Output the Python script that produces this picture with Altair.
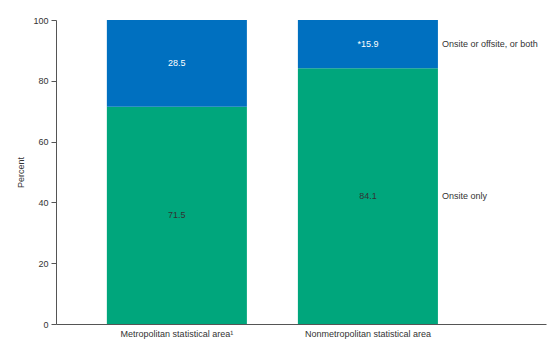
import altair as alt
import pandas as pd

areas = ["Metropolitan statistical area\u00b9", "Nonmetropolitan statistical area"]
onsite_only = [71.5, 84.1]
onsite_or_offsite = [28.5, 15.9]
value_labels_only = ["71.5", "84.1"]
value_labels_both = ["28.5", "*15.9"]
series = ["Onsite only", "Onsite or offsite, or both"]
colors = ["#00a67c", "#0070c0"]

rows = []
for i, a in enumerate(areas):
    rows.append({"area": a, "series": series[0], "value": onsite_only[i], "order": 0,
                 "label": value_labels_only[i], "start": 0, "mid": onsite_only[i] / 2})
    rows.append({"area": a, "series": series[1], "value": onsite_or_offsite[i], "order": 1,
                 "label": value_labels_both[i], "start": onsite_only[i],
                 "mid": onsite_only[i] + onsite_or_offsite[i] / 2})
df = pd.DataFrame(rows)

font = "Liberation Sans"

xscale = alt.Scale(domain=areas, paddingInner=0.267, paddingOuter=0.416, align=0.32)

base = alt.Chart(df)

bars = base.mark_bar(stroke=None).encode(
    x=alt.X("area:N", scale=xscale, sort=areas,
            axis=alt.Axis(title=None, labelAngle=0, ticks=False, labelPadding=5,
                          labelFont=font, labelFontSize=9, labelColor="#333",
                          domainColor="#555", domainWidth=1)),
    y=alt.Y("start:Q", scale=alt.Scale(domain=[0, 100], nice=False),
            axis=alt.Axis(title="Percent", values=[0, 20, 40, 60, 80, 100], grid=False,
                          tickSize=5, tickColor="#555", domainColor="#555",
                          labelFont=font, labelFontSize=9, labelColor="#333",
                          titleFont=font, titleFontSize=9, titleFontWeight="normal",
                          titleColor="#333", titlePadding=7, labelPadding=3)),
    y2=alt.Y2("end:Q"),
    color=alt.Color("series:N", scale=alt.Scale(domain=series, range=colors), legend=None),
).transform_calculate(end="datum.start + datum.value")

text_green = base.transform_filter(alt.datum.order == 0).mark_text(
    font=font, fontSize=9, color="#333").encode(
    x=alt.X("area:N", scale=xscale, sort=areas),
    y=alt.Y("mid:Q"),
    text="label:N")

text_blue = base.transform_filter(alt.datum.order == 1).mark_text(
    font=font, fontSize=9, color="white").encode(
    x=alt.X("area:N", scale=xscale, sort=areas),
    y=alt.Y("mid:Q"),
    text="label:N")

side = base.transform_filter(alt.datum.area == areas[1]).mark_text(
    font=font, fontSize=9, color="#333", align="left", dx=74).encode(
    x=alt.X("area:N", scale=xscale, sort=areas),
    y=alt.Y("mid:Q"),
    text="series:N")

chart = alt.layer(bars, text_green, text_blue, side).properties(
    width=490, height=304,
    autosize="none",
    padding={"left": 56, "top": 20, "right": 14, "bottom": 30},
).configure_view(stroke=None)

chart.save("out.html", embed_options={"renderer": "svg", "actions": False})
